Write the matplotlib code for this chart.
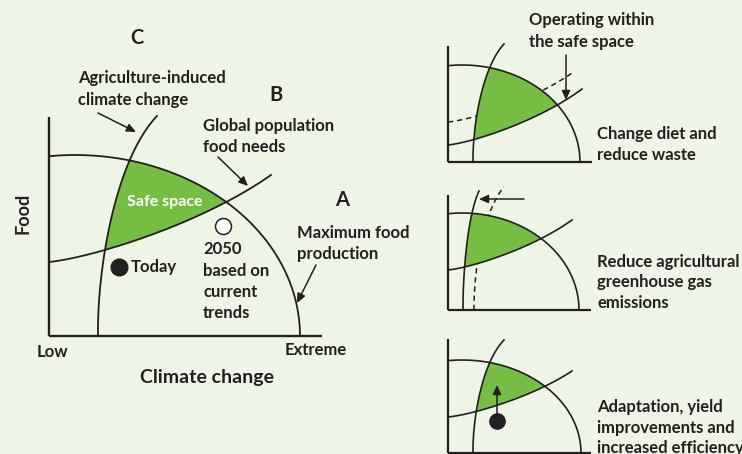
import numpy as np
import matplotlib.pyplot as plt
from matplotlib.patches import Polygon

BG = '#eef5e6'
GREEN = '#76bd43'
INK = '#231f20'

# ---- geometry of the four panels (pixel coords, y grows downward) ----
# axis frame: corner x, corner y, top of y axis, end of x axis
main_frame = (49, 336, 117, 322)
main_A = (75, 336, 225, 181)          # max food production: ellipse cx, cy, a, b
main_B = [(49, 262), (90, 258), (200, 225), (271, 175)]   # food needs
main_C = [(98, 336), (97, 270), (115, 160), (157, 116)]   # agri climate change

p1_frame = (448, 162, 46, 592)
p1_A = (462, 162, 118, 97)
p1_B = [(448, 145), (473, 142.4), (539, 121), (582, 89)]
p1_B_old = [(448, 122), (471, 120), (532, 101), (572, 73)]
p1_C = [(473, 162), (472.5, 126.6), (482, 67.6), (504, 44)]

p2_frame = (448, 310, 195, 591)
p2_A = (462, 310, 117, 97)
p2_B = [(448, 270), (471, 267.7), (532, 248.75), (572, 220)]
p2_C = [(463, 310), (462.7, 274.3), (467.6, 214.8), (479, 191)]
p2_C_old = [(474, 310), (473.5, 273), (482.7, 211.6), (504, 187)]

p3_frame = (448, 453, 339, 591)
p3_A = (462, 453, 119, 93)
p3_B = [(448, 417), (471, 414.9), (532, 397.5), (572, 371)]
p3_C = [(473, 453), (472.5, 419.1), (482, 362.6), (504, 340)]

today = (119, 267)
trend_2050 = (223, 226)
p3_dot = (497, 421)


def bez(P, n=400):
    P = np.array(P, dtype=float)
    t = np.linspace(0, 1, n)[:, None]
    return ((1 - t) ** 3 * P[0] + 3 * (1 - t) ** 2 * t * P[1]
            + 3 * (1 - t) * t ** 2 * P[2] + t ** 3 * P[3])


def ell(A, xmin, n=400):
    cx, cy, a, b = A
    th = np.linspace(0, np.arccos((xmin - cx) / a), n)
    return np.c_[cx + a * np.cos(th), cy - b * np.sin(th)]


def safe_space(A, B, C, xmin):
    cx, cy, a, b = A
    Ay = lambda x: cy - b * np.sqrt(np.clip(1 - ((x - cx) / a) ** 2, 0, None))
    bp, cp, ap = bez(B), bez(C), ell(A, xmin)
    Cx = lambda y: np.interp(y, cp[::-1, 1], cp[::-1, 0])
    By = lambda x: np.interp(x, bp[:, 0], bp[:, 1])
    bsel = bp[(bp[:, 0] >= Cx(bp[:, 1])) & (bp[:, 1] >= Ay(bp[:, 0])) & (bp[:, 0] <= cx + a)]
    asel = ap[(ap[:, 1] <= By(ap[:, 0])) & (ap[:, 0] >= Cx(ap[:, 1]))]
    csel = cp[(cp[:, 1] >= Ay(cp[:, 0])) & (cp[:, 1] <= By(cp[:, 0]))][::-1]
    return np.vstack([bsel, asel, csel])


def panel(ax, frame, A, B, C, lw=1.2, alw=1.6):
    x0, y0, top, right = frame
    ax.add_patch(Polygon(safe_space(A, B, C, x0), closed=True,
                         facecolor=GREEN, edgecolor='none', zorder=1))
    for pts in (ell(A, x0), bez(B), bez(C)):
        ax.plot(pts[:, 0], pts[:, 1], color=INK, lw=lw, zorder=2)
    ax.plot([x0, x0], [top, y0], color=INK, lw=alw, zorder=3, solid_capstyle='butt')
    ax.plot([x0, right], [y0, y0], color=INK, lw=alw, zorder=3, solid_capstyle='butt')


def dashed(ax, P):
    pts = bez(P)
    ax.plot(pts[:, 0], pts[:, 1], color=INK, lw=1.1, ls=(0, (3.5, 2.5)), zorder=0.5)


def arrow(ax, start, end):
    ax.annotate('', xy=end, xytext=start, zorder=4,
                arrowprops=dict(arrowstyle='-|>,head_length=0.55,head_width=0.25',
                                color=INK, lw=1.1, shrinkA=0, shrinkB=0))


def lines(ax, x, y, txt, step=21.5, size=12, **kw):
    for i, s in enumerate(txt):
        ax.text(x, y + i * step + 5, s, fontsize=size, fontweight='bold',
                color=kw.get('color', INK), ha=kw.get('ha', 'left'), va='baseline')


plt.rcParams['font.family'] = ['Lato', 'DejaVu Sans']
fig = plt.figure(figsize=(7.42, 4.54), dpi=100)
fig.patch.set_facecolor(BG)
ax = fig.add_axes([0, 0, 1, 1])
ax.set_xlim(0, 742)
ax.set_ylim(454, 0)
ax.axis('off')

# main diagram
panel(ax, main_frame, main_A, main_B, main_C, lw=1.3, alw=1.7)
ax.plot(*today, 'o', ms=12, color=INK, zorder=5)
ax.plot(*trend_2050, 'o', ms=11.5, mfc='white', mec=INK, mew=1.1, zorder=5)
lines(ax, 165, 201, ['Safe space'], ha='center', color='white', size=11.5)
lines(ax, 131, 267, ['Today'])
lines(ax, 203, 249, ['2050', 'based on', 'current', 'trends'])
lines(ax, 78, 78, ['Agriculture-induced', 'climate change'])
lines(ax, 203, 126, ['Global population', 'food needs'])
lines(ax, 297, 233, ['Maximum food', 'production'])
lines(ax, 52, 352, ['Low'], ha='center')
lines(ax, 316, 350, ['Extreme'], ha='center')
lines(ax, 207, 378, ['Climate change'], ha='center', size=14)
ax.text(23, 213, 'Food', rotation=90, fontsize=13, fontweight='bold',
        color=INK, ha='center', va='center')
for letter, pos in (('A', (342, 200)), ('B', (276, 95)), ('C', (137, 38))):
    ax.text(*pos, letter, fontsize=14.5, fontweight='bold', color=INK,
            ha='center', va='center')
arrow(ax, (98, 113), (136, 132))
arrow(ax, (218, 157), (248, 186))
arrow(ax, (316, 265), (297, 303))

# panel 1: change diet
dashed(ax, p1_B_old)
panel(ax, p1_frame, p1_A, p1_B, p1_C)
arrow(ax, (566, 55), (566, 100))
lines(ax, 529, 20, ['Operating within', 'the safe space'])
lines(ax, 597, 134, ['Change diet and', 'reduce waste'])

# panel 2: reduce emissions
dashed(ax, p2_C_old)
panel(ax, p2_frame, p2_A, p2_B, p2_C)
arrow(ax, (524, 199), (479, 199))
lines(ax, 597, 262, ['Reduce agricultural', 'greenhouse gas', 'emissions'], step=20.5)

# panel 3: adaptation
panel(ax, p3_frame, p3_A, p3_B, p3_C)
ax.plot(*p3_dot, 'o', ms=11, color=INK, zorder=5)
arrow(ax, p3_dot, (497, 385))
lines(ax, 597, 407, ['Adaptation, yield', 'improvements and', 'increased efficiency'], step=20.5)

fig.savefig('out.png', dpi=100, facecolor=BG)
